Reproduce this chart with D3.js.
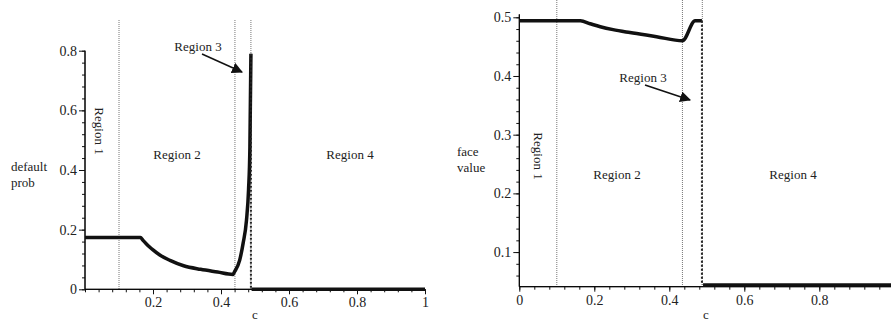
<!DOCTYPE html>
<html>
<head>
<meta charset="utf-8">
<script src="https://cdn.jsdelivr.net/npm/d3@7"></script>
<style>
  body { margin: 0; background: #fff; }
  svg { display: block; font-family: "Liberation Serif", "DejaVu Serif", serif; }
  .lbl { font-size: 13px; fill: #222; }
  svg .tick text { font-family: "Liberation Serif", "DejaVu Serif", serif !important; font-size: 14px !important; fill: #222; }
</style>
</head>
<body>
<div id="graph"></div>
<script>
// ---- data ----
// left panel: default probability vs c
var leftC    = [0, 0.05, 0.1, 0.163, 0.17, 0.18, 0.19, 0.2, 0.22, 0.25, 0.29, 0.34, 0.39, 0.435, 0.44, 0.455, 0.465, 0.475, 0.481, 0.485, 0.488];
var leftProb = [0.174, 0.174, 0.174, 0.174, 0.165, 0.153, 0.142, 0.132, 0.115, 0.097, 0.079, 0.067, 0.058, 0.05, 0.059, 0.098, 0.154, 0.232, 0.333, 0.478, 0.79];
var leftC4    = [0.49, 1];
var leftProb4 = [0, 0];
var leftBounds = [0.1, 0.441, 0.488];

// right panel: face value vs c
var rightC    = [0, 0.1, 0.163, 0.189, 0.216, 0.25, 0.295, 0.366, 0.435, 0.469, 0.487];
var rightFace = [0.494, 0.494, 0.494, 0.489, 0.484, 0.479, 0.474, 0.467, 0.460, 0.494, 0.494];
var rightC4    = [0.49, 1];
var rightFace4 = [0.044, 0.044];
var rightBounds = [0.1, 0.435, 0.488];

var leftXTicks = [0.2, 0.4, 0.6, 0.8, 1];
var leftYTicks = [0, 0.2, 0.4, 0.6, 0.8];
var rightXTicks = [0, 0.2, 0.4, 0.6, 0.8];
var rightYTicks = [0.1, 0.2, 0.3, 0.4, 0.5];

var WIDTH = 891, HEIGHT = 322;

var svg = d3.select("#graph").append("svg")
  .attr("width", WIDTH)
  .attr("height", HEIGHT);

svg.append("defs").append("marker")
  .attr("id", "arrow")
  .attr("viewBox", "0 0 10 10")
  .attr("refX", 9).attr("refY", 5)
  .attr("markerWidth", 11).attr("markerHeight", 11)
  .attr("markerUnits", "userSpaceOnUse")
  .attr("orient", "auto")
  .append("path")
  .attr("d", "M0,0 L10,5 L0,10 z")
  .attr("fill", "#111");

function zip(a, b) { return a.map(function (d, i) { return [d, b[i]]; }); }

function minorTicks(lo, hi, step) {
  var out = [];
  for (var i = Math.ceil(lo / step - 1e-9); i * step <= hi + 1e-9; i++) out.push(+(i * step).toFixed(4));
  return out;
}

function drawPanel(p) {
  var x = d3.scaleLinear().domain([0, 1]).range(p.xr);
  var y = d3.scaleLinear().domain(p.yd).range(p.yr);
  var g = svg.append("g");

  // region boundaries
  p.bounds.forEach(function (b) {
    g.append("line")
      .attr("x1", x(b)).attr("x2", x(b))
      .attr("y1", p.top).attr("y2", y(p.yd[0]))
      .attr("stroke", "#777").attr("stroke-width", 1)
      .attr("stroke-dasharray", "1,1");
  });

  // minor + major ticks
  var xAxisMinor = d3.axisBottom(x).tickValues(minorTicks(0, p.xMax, 0.04)).tickSize(3).tickFormat("");
  var yAxisMinor = d3.axisLeft(y).tickValues(minorTicks(p.yd[0], p.yTop, p.yMinor)).tickSize(3).tickFormat("");
  var xAxis = d3.axisBottom(x).tickValues(p.xTicks).tickSize(5).tickPadding(3).tickFormat(d3.format("~g"));
  var yAxis = d3.axisLeft(y).tickValues(p.yTicks).tickSize(6).tickPadding(2).tickFormat(d3.format("~g"));

  [xAxisMinor, xAxis].forEach(function (ax) {
    var a = g.append("g").attr("transform", "translate(0," + y(p.yd[0]) + ")").call(ax);
    a.select(".domain").attr("d", "M" + p.xr[0] + ",0H" + x(p.xMax));
    a.selectAll("line").attr("stroke", "#111");
  });
  [yAxisMinor, yAxis].forEach(function (ax) {
    var a = g.append("g").attr("transform", "translate(" + p.xr[0] + ",0)").call(ax);
    a.select(".domain").attr("d", "M0," + y(p.yd[0]) + "V" + y(p.yTop));
    a.selectAll("line").attr("stroke", "#111");
  });
  g.selectAll(".tick text")
    .style("font-family", "'Liberation Serif', serif")
    .style("font-size", "14px");

  var line = d3.line()
    .curve(d3.curveMonotoneX)
    .x(function (d) { return x(d[0]); })
    .y(function (d) { return y(d[1]); });

  // main curve
  g.append("path")
    .attr("d", line(zip(p.c, p.v)))
    .attr("fill", "none").attr("stroke", "#111")
    .attr("stroke-width", 3.5).attr("stroke-linejoin", "round");

  // drop at the jump
  var last = p.c.length - 1;
  g.append("line")
    .attr("x1", x(p.c[last])).attr("x2", x(p.c[last]))
    .attr("y1", y(p.v[last])).attr("y2", y(p.v4[0]))
    .attr("stroke", "#222").attr("stroke-width", 2)
    .attr("stroke-dasharray", "2,2");

  // region 4 curve
  g.append("path")
    .attr("d", line(zip(p.c4, p.v4)))
    .attr("fill", "none").attr("stroke", "#111").attr("stroke-width", 3.5);

  // axis labels
  var yl = g.append("text").attr("class", "lbl").attr("x", p.ylab[0]).attr("y", p.ylab[1]);
  p.ylabText.forEach(function (t, i) {
    yl.append("tspan").attr("x", p.ylab[0]).attr("dy", i === 0 ? 0 : 16).text(t);
  });
  g.append("text").attr("class", "lbl").attr("x", p.clab[0]).attr("y", p.clab[1])
    .attr("text-anchor", "middle").text("c");

  // region labels
  g.append("text").attr("class", "lbl")
    .attr("transform", "translate(" + p.r1[0] + "," + p.r1[1] + ") rotate(90)")
    .attr("text-anchor", "middle").attr("dy", "0.35em").text("Region 1");
  g.append("text").attr("class", "lbl").attr("x", p.r2[0]).attr("y", p.r2[1])
    .attr("text-anchor", "middle").attr("dy", "0.35em").text("Region 2");
  g.append("text").attr("class", "lbl").attr("x", p.r3[0]).attr("y", p.r3[1])
    .attr("text-anchor", "middle").attr("dy", "0.35em").text("Region 3");
  g.append("text").attr("class", "lbl").attr("x", p.r4[0]).attr("y", p.r4[1])
    .attr("text-anchor", "middle").attr("dy", "0.35em").text("Region 4");
  g.append("line")
    .attr("x1", p.arrow[0]).attr("y1", p.arrow[1])
    .attr("x2", p.arrow[2]).attr("y2", p.arrow[3])
    .attr("stroke", "#111").attr("stroke-width", 1.5)
    .attr("marker-end", "url(#arrow)");
}

drawPanel({
  xr: [85, 425], xMax: 1, yd: [0, 0.8], yr: [289.3, 50.7], yTop: 0.8, yMinor: 0.04, top: 20,
  xTicks: leftXTicks, yTicks: leftYTicks,
  c: leftC, v: leftProb, c4: leftC4, v4: leftProb4, bounds: leftBounds,
  ylab: [11, 171], ylabText: ["default", "prob"], clab: [255, 319],
  r1: [100, 131], r2: [177, 154], r3: [198, 46], r4: [350, 154],
  arrow: [202, 54, 242, 72]
});

drawPanel({
  xr: [519.3, 894.3], xMax: 0.992, yd: [0.041, 0.5], yr: [286.7, 17.3], yTop: 0.505, yMinor: 0.02, top: 0,
  xTicks: rightXTicks, yTicks: rightYTicks,
  c: rightC, v: rightFace, c4: rightC4, v4: rightFace4, bounds: rightBounds,
  ylab: [457, 156], ylabText: ["face", "value"], clab: [706, 319],
  r1: [539, 156], r2: [617, 174], r3: [643, 77], r4: [793, 174],
  arrow: [645, 85, 690, 100]
});
</script>
</body>
</html>
